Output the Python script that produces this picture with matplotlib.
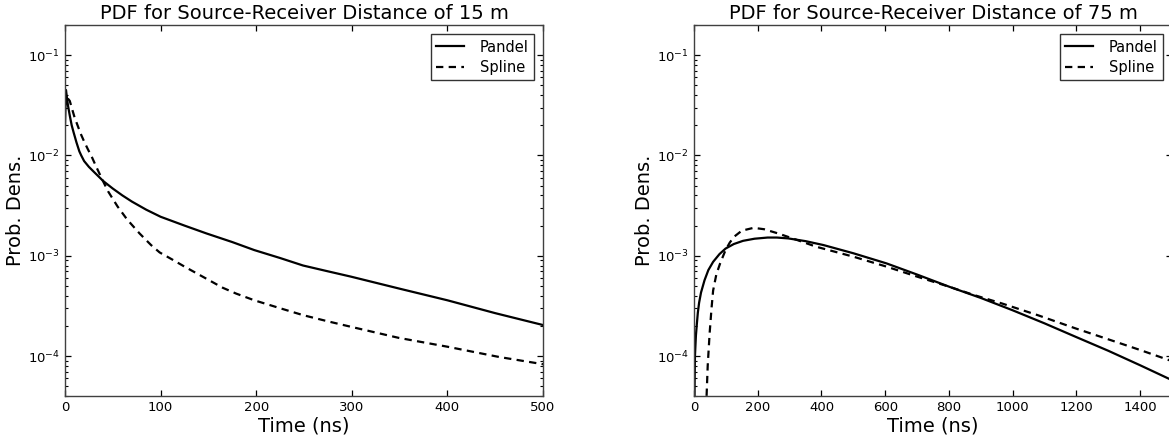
import numpy as np
import matplotlib
matplotlib.use("Agg")
import matplotlib.pyplot as plt
from matplotlib.ticker import LogLocator, NullFormatter

# ---- 15 m panel ----
t15_pandel = [0, 1, 2, 3, 5, 7, 9, 12, 15, 17, 20, 25, 30, 40, 50, 60, 70, 85, 100, 125, 148,
              175, 198, 225, 249, 275, 299, 350, 400, 450, 500]
pdf15_pandel = [0.020, 0.045, 0.038, 0.032, 0.025, 0.020, 0.017, 0.0135, 0.0110, 0.0100,
                0.0088, 0.0077, 0.0069, 0.00556, 0.00468, 0.0040, 0.00347, 0.00288, 0.00245,
                0.00200, 0.00167, 0.00137, 0.00114, 0.00095, 0.00080, 0.00070, 0.00062,
                0.00047, 0.00036, 0.000268, 0.000204]

t15_spline = [3, 5, 7, 10, 14, 17, 20, 24, 28, 33, 40, 45, 55, 65, 78, 90, 99, 112, 125, 148,
              165, 179, 198, 225, 249, 275, 299, 349, 400, 454, 500]
pdf15_spline = [0.037, 0.035, 0.030, 0.024, 0.0190, 0.0160, 0.0138, 0.0115, 0.0097, 0.0076,
                0.0055, 0.0044, 0.0031, 0.0023, 0.00167, 0.00128, 0.00108, 0.00092, 0.00078,
                0.00059, 0.00048, 0.00042, 0.00036, 0.00030, 0.000256, 0.000222, 0.000196,
                0.000152, 0.000124, 0.000098, 0.000083]

# ---- 75 m panel ----
t75_pandel = [0.5, 3, 6, 9, 12, 16, 22, 33, 45, 60, 80, 99, 125, 154, 190, 231, 260, 296, 350,
              406, 500, 604, 700, 802, 900, 999, 1100, 1197, 1300, 1400, 1500]
pdf75_pandel = [2.0e-5, 1.0e-4, 1.6e-4, 2.1e-4, 2.7e-4, 3.4e-4, 4.3e-4, 5.7e-4, 7.2e-4, 8.7e-4,
                1.04e-3, 1.18e-3, 1.31e-3, 1.41e-3, 1.48e-3, 1.52e-3, 1.52e-3, 1.49e-3, 1.40e-3,
                1.28e-3, 1.06e-3, 8.4e-4, 6.5e-4, 4.9e-4, 3.8e-4, 2.87e-4, 2.12e-4, 1.56e-4,
                1.13e-4, 8.1e-5, 5.75e-5]

t75_spline = [38, 43, 49, 55, 60, 70, 82, 99, 112, 126, 150, 187, 220, 264, 320, 384, 500, 604,
              700, 802, 880, 966, 1080, 1197, 1300, 1400, 1500]
pdf75_spline = [3.0e-5, 8.0e-5, 1.68e-4, 3.0e-4, 4.5e-4, 6.5e-4, 8.4e-4, 1.14e-3, 1.35e-3,
                1.55e-3, 1.78e-3, 1.90e-3, 1.84e-3, 1.67e-3, 1.45e-3, 1.23e-3, 9.8e-4, 7.8e-4,
                6.2e-4, 4.9e-4, 4.05e-4, 3.35e-4, 2.55e-4, 1.89e-4, 1.47e-4, 1.15e-4, 8.9e-5]

titles = ["PDF for Source-Receiver Distance of 15 m",
          "PDF for Source-Receiver Distance of 75 m"]
xmax = [500, 1500]


def style_axes(ax, title, xm):
    ax.set_yscale("log")
    ax.set_xlim(0, xm)
    ax.set_ylim(4e-5, 0.2)
    ax.yaxis.set_major_locator(LogLocator(base=10, numticks=20))
    ax.yaxis.set_minor_locator(LogLocator(base=10, subs=np.arange(2, 10), numticks=100))
    ax.yaxis.set_minor_formatter(NullFormatter())
    ax.set_title(title, fontsize=14, pad=4)
    ax.set_xlabel("Time (ns)", fontsize=14, labelpad=2)
    ax.set_ylabel("Prob. Dens.", fontsize=14, labelpad=2)
    ax.tick_params(which="both", direction="in", top=True, right=True, labelsize=9.5)
    ax.tick_params(which="major", length=4.2, width=0.9)
    ax.tick_params(which="minor", length=2.0, width=0.8)
    for s in ax.spines.values():
        s.set_linewidth(1.0)
        s.set_color("0.25")
    leg = ax.legend(loc="upper right", fontsize=10.5, fancybox=False, framealpha=1,
                    edgecolor="0.2", handlelength=1.9, handletextpad=1.1,
                    borderaxespad=0.65, borderpad=0.35, labelspacing=0.35)
    leg.get_frame().set_linewidth(1.0)


fig = plt.figure(figsize=(11.69, 4.41), dpi=100)
W, H = 1169.0, 441.0
ax1 = fig.add_axes([65 / W, 45 / H, 478 / W, 371 / H])
ax2 = fig.add_axes([694 / W, 45 / H, 478 / W, 371 / H])

dash = (3.3, 2.4)
ax1.plot(t15_pandel, pdf15_pandel, color="black", lw=1.6, label="Pandel")
ax1.plot(t15_spline, pdf15_spline, color="black", lw=1.6, dashes=dash, label="Spline")
ax2.plot(t75_pandel, pdf75_pandel, color="black", lw=1.6, label="Pandel")
ax2.plot(t75_spline, pdf75_spline, color="black", lw=1.6, dashes=dash, label="Spline")

style_axes(ax1, titles[0], xmax[0])
style_axes(ax2, titles[1], xmax[1])

fig.savefig("out.png", dpi=100)
